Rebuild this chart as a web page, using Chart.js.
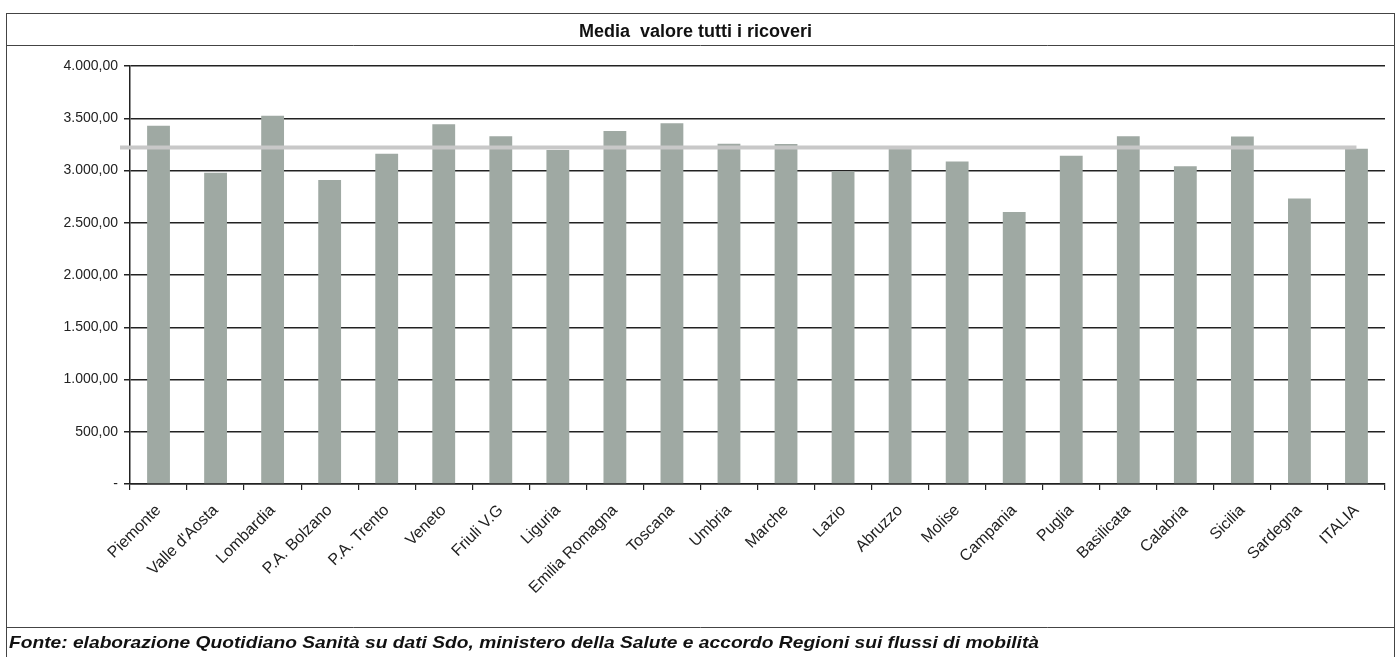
<!DOCTYPE html>
<html>
<head>
<meta charset="utf-8">
<script src="https://cdn.jsdelivr.net/npm/chart.js@4/dist/chart.umd.min.js"></script>
<style>
  html, body { margin: 0; padding: 0; background: #fff; }
  #wrap { width: 1400px; height: 657px; position: relative; }
</style>
</head>
<body>
<div id="wrap"><canvas id="ricoveri" width="1400" height="657"></canvas></div>
<script>
const regioni = ["Piemonte", "Valle d'Aosta", "Lombardia", "P.A. Bolzano", "P.A. Trento", "Veneto",
  "Friuli V.G", "Liguria", "Emilia Romagna", "Toscana", "Umbria", "Marche", "Lazio", "Abruzzo",
  "Molise", "Campania", "Puglia", "Basilicata", "Calabria", "Sicilia", "Sardegna", "ITALIA"];
const valori = [3429, 2978, 3525, 2910, 3161, 3442, 3327, 3196, 3378, 3452, 3256, 3254, 2993, 3234,
  3087, 2603, 3141, 3327, 3041, 3325, 2731, 3208];
const mediaItalia = 3221;
const yTicks = [0, 500, 1000, 1500, 2000, 2500, 3000, 3500, 4000];
const titolo = "Media  valore tutti i ricoveri";
const fonte = "Fonte: elaborazione Quotidiano Sanità su dati Sdo, ministero della Salute e accordo Regioni sui flussi di mobilità";

const fontFamily = "'Liberation Sans', Arial, sans-serif";

function formatIt(v) {
  if (v === 0) return "-";
  return v.toLocaleString("it-IT", { minimumFractionDigits: 2, maximumFractionDigits: 2 });
}

// frame, footer and background
const cornice = {
  id: "cornice",
  beforeDraw(chart) {
    const ctx = chart.ctx;
    ctx.save();
    ctx.fillStyle = "#fff";
    ctx.fillRect(0, 0, chart.width, chart.height);
    ctx.restore();
  },
  afterDraw(chart) {
    const ctx = chart.ctx;
    ctx.save();
    ctx.strokeStyle = "#444";
    ctx.lineWidth = 1;
    ctx.strokeRect(6.5, 13.5, 1388, 650);
    ctx.beginPath();
    ctx.moveTo(6, 45.5); ctx.lineTo(1395, 45.5);
    ctx.moveTo(6, 627.5); ctx.lineTo(1395, 627.5);
    ctx.stroke();
    // footer, stretched a little to the width of the scanned original
    ctx.fillStyle = "#111";
    ctx.font = "italic bold 17px " + fontFamily;
    ctx.textBaseline = "middle";
    const w = ctx.measureText(fonte).width;
    const sx = 1030 / w;
    ctx.translate(9, 643);
    ctx.scale(sx, 1);
    ctx.fillText(fonte, 0, 0);
    ctx.restore();
  }
};

// horizontal line with the national average
const lineaMedia = {
  id: "lineaMedia",
  afterDatasetsDraw(chart) {
    const { ctx, chartArea, scales } = chart;
    const y = scales.y.getPixelForValue(mediaItalia);
    const xEnd = scales.x.getPixelForValue(regioni.length - 1);
    ctx.save();
    ctx.strokeStyle = "#c8c8c8";
    ctx.lineWidth = 4;
    ctx.beginPath();
    ctx.moveTo(chartArea.left - 10, y);
    ctx.lineTo(xEnd, y);
    ctx.stroke();
    ctx.restore();
  }
};

new Chart(document.getElementById("ricoveri"), {
  type: "bar",
  data: {
    labels: regioni,
    datasets: [{
      label: "Media valore",
      data: valori,
      backgroundColor: "#9fa9a3",
      borderWidth: 0,
      barPercentage: 0.8,
      categoryPercentage: 0.5
    }]
  },
  options: {
    responsive: false,
    animation: false,
    layout: { padding: { top: 13, left: 6, right: 15, bottom: 43 } },
    plugins: {
      legend: { display: false },
      tooltip: { enabled: false },
      title: {
        display: true,
        text: titolo,
        color: "#111",
        font: { family: fontFamily, size: 18, weight: "bold", lineHeight: 1.2 },
        padding: { top: 8, bottom: 23.4 }
      }
    },
    scales: {
      x: {
        grid: { display: true, drawOnChartArea: false, color: "#222", tickLength: 6, lineWidth: 1.2 },
        border: { color: "#222", width: 1.5 },
        ticks: {
          color: "#222",
          font: { family: fontFamily, size: 16 },
          minRotation: 45,
          maxRotation: 45,
          autoSkip: false,
          padding: 11
        },
        afterFit(scale) { scale.height = 130; }
      },
      y: {
        min: 0,
        max: 4000,
        afterBuildTicks(scale) { scale.ticks = yTicks.map(v => ({ value: v })); },
        grid: { color: "#222", lineWidth: 1.5, tickLength: 6 },
        border: { color: "#222", width: 1.5 },
        ticks: {
          color: "#222",
          font: { family: fontFamily, size: 14 },
          padding: 6,
          callback: (v) => formatIt(v)
        },
        afterFit(scale) { scale.width = 124; }
      }
    }
  },
  plugins: [cornice, lineaMedia]
});
</script>
</body>
</html>
